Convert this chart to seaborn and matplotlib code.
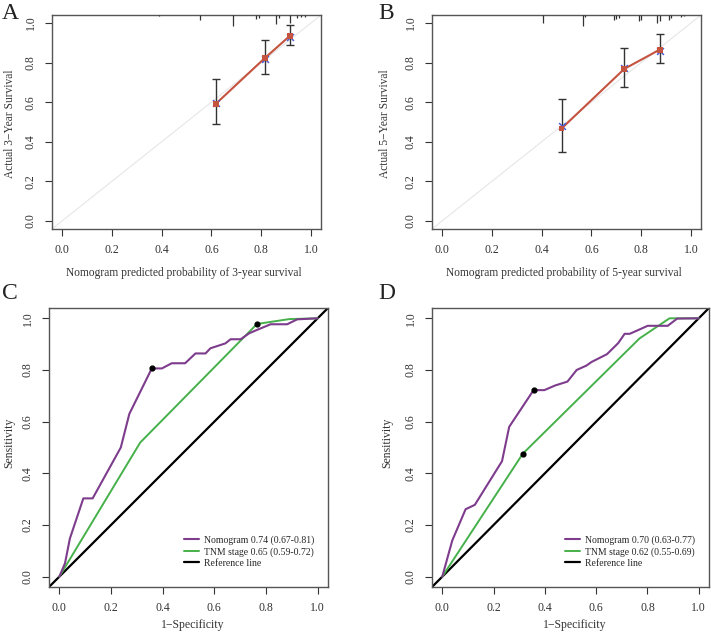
import numpy as np
import pandas as pd
import matplotlib
matplotlib.use("Agg")
import matplotlib.pyplot as plt
import matplotlib.transforms as mtransforms
import seaborn as sns

# calibration, 3-year
cal3_pred = [0.618, 0.814, 0.916]
cal3_obs = [0.592, 0.822, 0.936]
cal3_lo = [0.489, 0.743, 0.890]
cal3_hi = [0.716, 0.912, 0.990]
cal3_bc = [0.594, 0.820, 0.930]
rug3_x = [0.39, 0.555, 0.685, 0.78, 0.79, 0.86, 0.87, 0.915, 0.945, 0.96, 0.975]
rug3_len = [1, 5, 11, 4, 3, 9, 3, 8, 3, 2, 2]

# calibration, 5-year
cal5_pred = [0.480, 0.732, 0.874]
cal5_obs = [0.467, 0.768, 0.865]
cal5_lo = [0.349, 0.675, 0.797]
cal5_hi = [0.618, 0.873, 0.944]
cal5_bc = [0.482, 0.770, 0.857]
rug5_x = [0.404, 0.565, 0.575, 0.69, 0.70, 0.71, 0.79, 0.80, 0.865, 0.875, 0.91, 0.92, 0.96, 0.97]
rug5_len = [8, 11, 2, 5, 4, 3, 6, 5, 8, 6, 5, 3, 2, 1]

# ROC, 3-year
rocC_nomo_fpr = [0, 0.022, 0.041, 0.093, 0.129, 0.238, 0.271, 0.358, 0.397, 0.435, 0.487,
                 0.527, 0.566, 0.585, 0.643, 0.663, 0.702, 0.735, 0.765, 0.818, 0.882, 0.921, 1.0]
rocC_nomo_tpr = [0, 0.052, 0.148, 0.303, 0.303, 0.500, 0.630, 0.806, 0.806, 0.826, 0.826,
                 0.864, 0.864, 0.884, 0.903, 0.919, 0.919, 0.942, 0.955, 0.977, 0.977, 0.996, 1.0]
rocC_tnm_fpr = [0, 0.313, 0.765, 0.890, 1.0]
rocC_tnm_tpr = [0, 0.519, 0.978, 0.997, 1.0]
rocC_best = [(0.358, 0.806), (0.765, 0.978)]

# ROC, 5-year
rocD_nomo_fpr = [0, 0.039, 0.091, 0.127, 0.233, 0.261, 0.356, 0.398, 0.440, 0.488, 0.524,
                 0.562, 0.582, 0.642, 0.686, 0.711, 0.731, 0.801, 0.879, 0.916, 1.0]
rocD_nomo_tpr = [0, 0.140, 0.261, 0.278, 0.447, 0.580, 0.722, 0.722, 0.740, 0.755, 0.800,
                 0.817, 0.831, 0.861, 0.904, 0.940, 0.940, 0.971, 0.971, 0.999, 1.0]
rocD_tnm_fpr = [0, 0.314, 0.769, 0.886, 1.0]
rocD_tnm_tpr = [0, 0.476, 0.922, 1.0, 1.0]
rocD_best = [(0.356, 0.722), (0.314, 0.476)]

legend_C = ["Nomogram 0.74 (0.67-0.81)", "TNM stage 0.65 (0.59-0.72)", "Reference line"]
legend_D = ["Nomogram 0.70 (0.63-0.77)", "TNM stage 0.62 (0.55-0.69)", "Reference line"]
ticks = [0.0, 0.2, 0.4, 0.6, 0.8, 1.0]

sns.set_theme(style="ticks")
plt.rcParams['font.family'] = ['Liberation Serif', 'DejaVu Serif']

RED = "#C4533F"
PURPLE = "#7D3C8C"
GREEN = "#46B04A"
EDGE = "#555555"

fig = plt.figure(figsize=(7.11, 6.35), dpi=100)
axA = fig.add_axes([0.0731, 0.6394, 0.3784, 0.3370])
axB = fig.add_axes([0.6076, 0.6394, 0.3784, 0.3370])
axC = fig.add_axes([0.0689, 0.0756, 0.3924, 0.4394])
axD = fig.add_axes([0.6076, 0.0756, 0.3896, 0.4394])


def style_axes(ax):
    ax.set_xlim(-0.04, 1.04)
    ax.set_ylim(-0.04, 1.04)
    ax.set_xticks(ticks)
    ax.set_yticks(ticks)
    ax.set_xticklabels([f"{t:.1f}" for t in ticks])
    ax.set_yticklabels([f"{t:.1f}" for t in ticks], rotation=90, va="center")
    ax.tick_params(axis="both", length=5, width=0.8, color="#333333", labelsize=8.5,
                   labelcolor="#333333", pad=6)
    for sp in ax.spines.values():
        sp.set_visible(True)
        sp.set_color(EDGE)
        sp.set_linewidth(1.0)


def calib(ax, pred, obs, lo, hi, bc, rug_x, rug_len, xlabel, ylabel, ylab_x):
    style_axes(ax)
    ax.plot([-0.04, 1.04], [-0.04, 1.04], color="#e6e6e6", lw=0.8, zorder=1)
    df = pd.DataFrame({"pred": pred, "obs": obs})
    sns.lineplot(data=df, x="pred", y="obs", color=RED, lw=1.5, sort=False,
                 estimator=None, ax=ax, zorder=3)
    obs_a = np.array(obs)
    ax.errorbar(pred, obs, yerr=[obs_a - np.array(lo), np.array(hi) - obs_a], fmt="none",
                ecolor="#333333", elinewidth=1.0, capsize=3, capthick=1.0, zorder=2)
    ax.scatter(pred, bc, marker="x", color="#4A5CD0", s=24, lw=1.1, zorder=4)
    sns.scatterplot(x=pred, y=obs, color=RED, marker="s", s=18, edgecolor="none",
                    ax=ax, zorder=5)
    trans = mtransforms.blended_transform_factory(ax.transData, ax.transAxes)
    hpx = ax.get_position().height * fig.get_figheight() * fig.dpi
    ax.vlines(rug_x, [1 - l / hpx for l in rug_len], 1, transform=trans,
              color="#333333", lw=0.9, zorder=6, clip_on=False)
    ax.set_xlabel(xlabel, fontsize=8.3, color="#333333")
    ax.set_ylabel(ylabel, fontsize=8.3, color="#333333")
    ax.xaxis.set_label_coords(0.49, -0.178)
    ax.yaxis.set_label_coords(ylab_x, 0.49)


def roc(ax, nf, nt, tf, tt, best, labels, ylab_x):
    style_axes(ax)
    ax.plot([-0.04, 1.04], [-0.04, 1.04], color="black", lw=1.6, zorder=2, label=labels[2])
    dn = pd.DataFrame({"fpr": nf, "tpr": nt})
    dt = pd.DataFrame({"fpr": tf, "tpr": tt})
    sns.lineplot(data=dt, x="fpr", y="tpr", color=GREEN, lw=1.4, sort=False,
                 estimator=None, ax=ax, zorder=3, label=labels[1])
    sns.lineplot(data=dn, x="fpr", y="tpr", color=PURPLE, lw=1.5, sort=False,
                 estimator=None, ax=ax, zorder=4, label=labels[0])
    bx, by = zip(*best)
    ax.scatter(bx, by, color="black", s=12, zorder=6)
    h, l = ax.get_legend_handles_labels()
    order = [l.index(labels[0]), l.index(labels[1]), l.index(labels[2])]
    ax.legend([h[i] for i in order], [l[i] for i in order], loc="lower right",
              bbox_to_anchor=(0.975, 0.045), frameon=False, fontsize=7,
              handlelength=1.6, handletextpad=0.5, labelspacing=0.2, borderpad=0.2)
    ax.set_xlabel("1\u2212Specificity", fontsize=8.5, color="#333333")
    ax.set_ylabel("Sensitivity", fontsize=8.5, color="#333333")
    ax.xaxis.set_label_coords(0.516, -0.115)
    ax.yaxis.set_label_coords(ylab_x, 0.516)


calib(axA, cal3_pred, cal3_obs, cal3_lo, cal3_hi, cal3_bc, rug3_x, rug3_len,
      "Nomogram predicted probability of 3-year survival", "Actual 3\u2212Year Survival", -0.135)
calib(axB, cal5_pred, cal5_obs, cal5_lo, cal5_hi, cal5_bc, rug5_x, rug5_len,
      "Nomogram predicted probability of 5-year survival", "Actual 5\u2212Year Survival", -0.152)
roc(axC, rocC_nomo_fpr, rocC_nomo_tpr, rocC_tnm_fpr, rocC_tnm_tpr, rocC_best, legend_C, -0.12)
roc(axD, rocD_nomo_fpr, rocD_nomo_tpr, rocD_tnm_fpr, rocD_tnm_tpr, rocD_best, legend_D, -0.14)

for letter, x, y in [("A", 0.003, 0.995), ("B", 0.532, 0.995), ("C", 0.003, 0.555), ("D", 0.532, 0.555)]:
    fig.text(x, y, letter, fontsize=17, ha="left", va="top", color="#222222")

fig.savefig("out.png", dpi=100)
